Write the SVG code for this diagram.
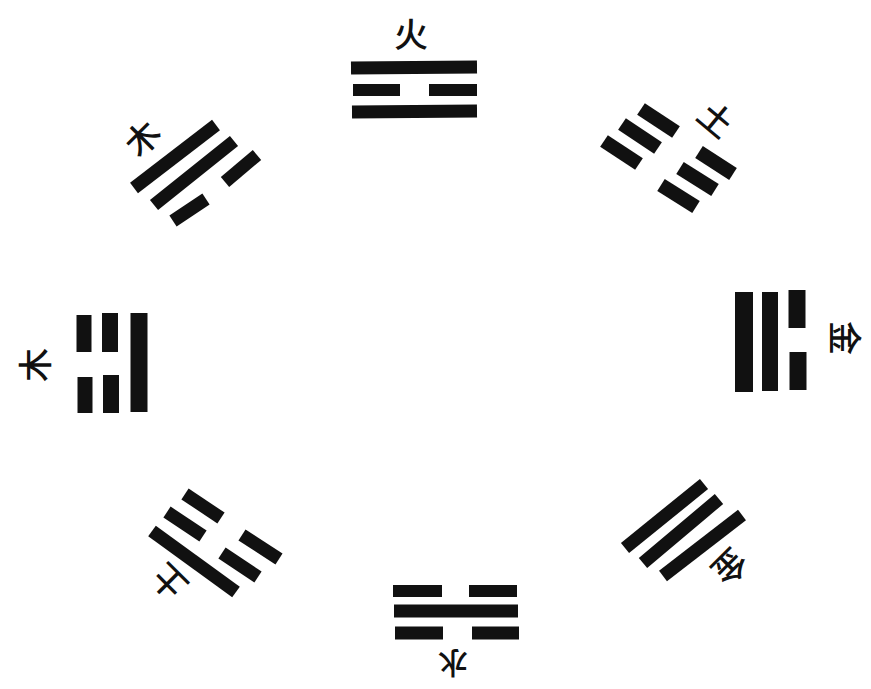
<svg xmlns="http://www.w3.org/2000/svg" width="871" height="689" viewBox="0 0 871 689">
<style>
.y{stroke:#111;stroke-linecap:butt;fill:none}
.t{font-family:"Noto Sans CJK SC","Noto Sans CJK JP",sans-serif;font-size:34px;font-weight:500;fill:#111;text-anchor:middle;dominant-baseline:central}
.s{font-size:30px}
</style>
<rect width="871" height="689" fill="#fff"/>
<g id="li">
<line class="y" x1="351" y1="68" x2="477" y2="67" stroke-width="13"/>
<line class="y" x1="353" y1="90" x2="400" y2="90" stroke-width="12"/>
<line class="y" x1="429" y1="90" x2="477" y2="90" stroke-width="12"/>
<line class="y" x1="352" y1="112" x2="477" y2="111" stroke-width="13"/>
<text class="t" transform="translate(411,32)">火</text>
</g>
<g id="kun">
<line class="y" x1="604" y1="141" x2="639" y2="164" stroke-width="14"/>
<line class="y" x1="622" y1="124" x2="658" y2="148" stroke-width="14"/>
<line class="y" x1="641" y1="109" x2="676" y2="132" stroke-width="14"/>
<line class="y" x1="661" y1="185" x2="696" y2="207" stroke-width="14"/>
<line class="y" x1="680" y1="168" x2="715" y2="190" stroke-width="14"/>
<line class="y" x1="699" y1="152" x2="733" y2="174" stroke-width="14"/>
<text class="t" transform="translate(717,118) rotate(40)">土</text>
</g>
<g id="dui">
<line class="y" x1="744" y1="292" x2="744" y2="392" stroke-width="18"/>
<line class="y" x1="770" y1="292" x2="770" y2="391" stroke-width="16"/>
<line class="y" x1="797" y1="290" x2="797" y2="328" stroke-width="17"/>
<line class="y" x1="798" y1="352" x2="798" y2="390" stroke-width="17"/>
<text class="t" transform="translate(846,338) rotate(90)">金</text>
</g>
<g id="qian">
<line class="y" x1="625" y1="548" x2="704" y2="484" stroke-width="13"/>
<line class="y" x1="643" y1="563" x2="719" y2="499" stroke-width="13"/>
<line class="y" x1="663" y1="576" x2="742" y2="515" stroke-width="13"/>
<text class="t" transform="translate(731,568) rotate(135)">金</text>
</g>
<g id="kan">
<line class="y" x1="393" y1="591" x2="442" y2="591" stroke-width="12"/>
<line class="y" x1="469" y1="591" x2="517" y2="591" stroke-width="12"/>
<line class="y" x1="394" y1="611" x2="518" y2="611" stroke-width="13"/>
<line class="y" x1="395" y1="633" x2="443" y2="633" stroke-width="13"/>
<line class="y" x1="472" y1="633" x2="519" y2="633" stroke-width="13"/>
<text class="t s" transform="translate(453,665) rotate(180)">水</text>
</g>
<g id="gen">
<line class="y" x1="152" y1="531" x2="236" y2="592" stroke-width="13"/>
<line class="y" x1="167" y1="512" x2="203" y2="536" stroke-width="13"/>
<line class="y" x1="222" y1="553" x2="258" y2="577" stroke-width="13"/>
<line class="y" x1="185" y1="494" x2="221" y2="518" stroke-width="13"/>
<line class="y" x1="242" y1="535" x2="279" y2="559" stroke-width="13"/>
<text class="t" transform="translate(168,583) rotate(-135)">土</text>
</g>
<g id="zhen">
<line class="y" x1="84" y1="315" x2="84" y2="352" stroke-width="15"/>
<line class="y" x1="85" y1="377" x2="85" y2="413" stroke-width="15"/>
<line class="y" x1="110" y1="313" x2="110" y2="352" stroke-width="16"/>
<line class="y" x1="111" y1="375" x2="111" y2="413" stroke-width="16"/>
<line class="y" x1="139" y1="313" x2="139" y2="412" stroke-width="17"/>
<text class="t" transform="translate(33,365) rotate(-90)">木</text>
</g>
<g id="xun">
<line class="y" x1="134" y1="188" x2="216" y2="125" stroke-width="13"/>
<line class="y" x1="154" y1="205" x2="234" y2="141" stroke-width="13"/>
<line class="y" x1="173" y1="221" x2="206" y2="199" stroke-width="13"/>
<line class="y" x1="225" y1="182" x2="257" y2="155" stroke-width="13"/>
<text class="t" transform="translate(141,137) rotate(-45)">木</text>
</g>
<g id="connectors"/>
</svg>
